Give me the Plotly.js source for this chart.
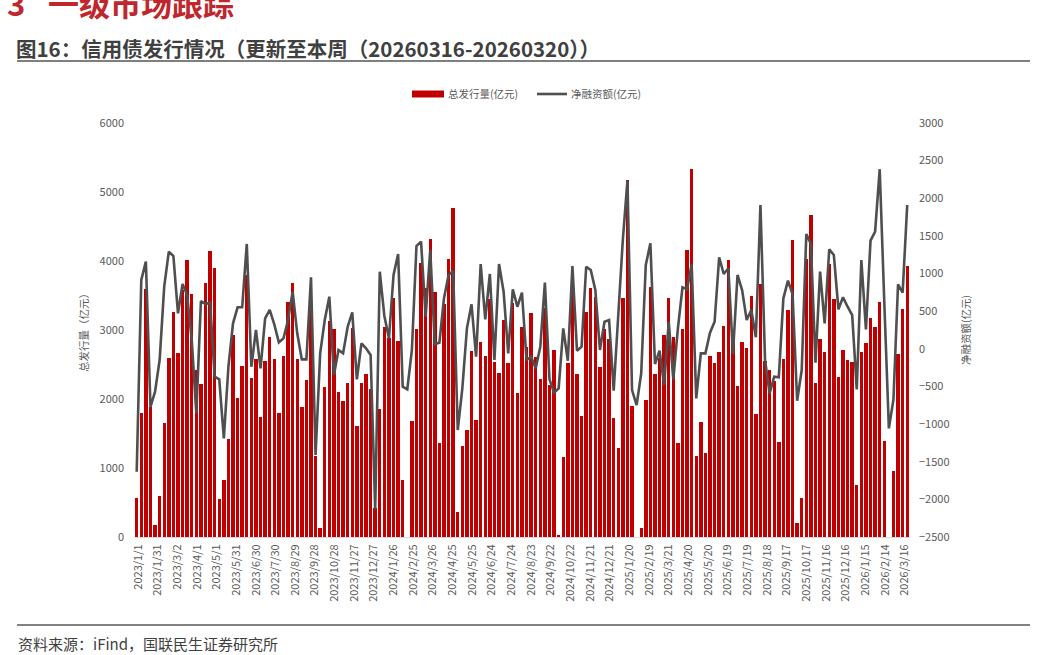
<!DOCTYPE html>
<html>
<head>
<meta charset="utf-8">
<script src="https://cdn.plot.ly/plotly-3.0.1.min.js"></script>
<style>
  html, body { margin: 0; padding: 0; background: #ffffff; }
  #chart { width: 1050px; height: 655px; }
</style>
</head>
<body>
<div id="chart"></div>
<script>
// Weekly credit bond issuance (bars) and net financing (line), in 100M CNY.
// Each value belongs to one weekly period, ending on the Friday below.
const firstWeekEnd = '2022-12-30';
const weekCount = 169;

const totalIssuance = [
  561, 1792, 3590, 1888, 174, 594, 1656, 2598, 3265, 2662,
  3580, 4014, 3521, 2420, 2212, 3685, 4144, 3898, 555, 826,
  1420, 2922, 2010, 2473, 3796, 2304, 2579, 1744, 2550, 2897,
  2579, 1802, 2623, 3410, 3685, 2575, 1888, 2275, 3314, 1180,
  125, 2169, 3130, 3014, 2106, 1971, 2231, 3024, 1613, 2236,
  2357, 2140, 420, 1850, 3038, 2878, 3468, 2844, 826, 0,
  1681, 3014, 3966, 3604, 4314, 3555, 1367, 3376, 4024, 4763,
  357, 1319, 1546, 2695, 1695, 2821, 2623, 3444, 2541, 2372,
  3144, 2526, 3386, 2082, 3038, 2757, 3250, 2613, 2285, 3314,
  2202, 2710, 29, 1164, 2526, 3555, 2357, 1753, 3265, 3604,
  3473, 2468, 3010, 2864, 1719, 1285, 3459, 5173, 1903, 0,
  135, 1985, 3618, 2362, 2590, 2927, 3459, 2897, 1358, 3014,
  4159, 5332, 1174, 1671, 1222, 2623, 2517, 2681, 3057, 4014,
  2927, 2183, 2821, 2734, 3492, 1782, 3665, 2550, 2420, 2265,
  1372, 2579, 3289, 4304, 208, 561, 4024, 4666, 2227, 2869,
  2676, 3951, 3444, 2314, 2710, 2565, 2541, 753, 2676, 2806,
  3168, 3047, 3410, 1396, 0, 956, 2647, 3299, 3927
];

const netFinancing = [
  -1633, 914, 1158, -770, -570, -149, 826, 1291, 1233, 472,
  861, 715, 117, -857, 635, 595, 613, -371, -405, -1190,
  -238, 339, 552, 552, 1393, -238, 250, -259, 405, 516,
  325, 86, 139, 383, 759, 206, -140, -140, 950, -1411,
  -60, 383, 693, -348, -16, -60, 294, 485, -405, 73,
  7, -82, -2133, 1025, 436, 139, 981, 1260, -503, -539,
  -16, 1366, 1424, 427, 1313, 64, 81, 671, 981, 1034,
  -1079, -525, 272, 591, -105, 1127, 392, 994, -149, 1127,
  759, -60, 791, 559, 746, -149, -105, -259, 28, 879,
  -405, -583, -525, 272, -158, 1100, -25, 28, 1091, 1047,
  781, -16, 360, 383, -557, 427, 1455, 2234, -548, -747,
  -326, 1114, 1402, -202, -25, -481, 360, -405, 272, 817,
  791, 1127, -658, -60, -60, 214, 360, 1216, 994, 1070,
  -69, 981, 781, 383, 516, 153, 1911, -149, -592, -371,
  -379, 671, 905, 728, -690, -282, 1526, 1393, -184, 1025,
  339, 1322, 1247, 525, 684, 559, 449, -539, 1180, 259,
  1437, 1556, 2386, 626, -1057, -671, 857, 746, 1911
];

// Date axis: labels every 30 days starting 2023/1/1
const firstTick = '2023-01-01';
const tickStepDays = 30;
const tickCount = 40;

const DAY = 86400000;
function isoDate(ms) {
  const d = new Date(ms);
  return d.toISOString().slice(0, 10);
}
function slashLabel(ms) {
  const d = new Date(ms);
  return d.getUTCFullYear() + '/' + (d.getUTCMonth() + 1) + '/' + d.getUTCDate();
}

const weekDates = [];
const startMs = Date.parse(firstWeekEnd + 'T00:00:00Z');
for (let i = 0; i < weekCount; i++) weekDates.push(isoDate(startMs + i * 7 * DAY));

const tickVals = [], tickText = [];
const tick0 = Date.parse(firstTick + 'T00:00:00Z');
for (let k = 0; k < tickCount; k++) {
  const ms = tick0 + k * tickStepDays * DAY;
  tickVals.push(isoDate(ms));
  tickText.push(slashLabel(ms));
}

// Plot frame in pixels
const L = 134, R = 910, T = 123, B = 537, W = 1050, H = 655;
const px = x => (x - L) / (R - L);
const py = y => (B - y) / (B - T);

const FONT = '"Noto Sans CJK SC", "Noto Sans", sans-serif';
const GREY = '#595959';
const RED = '#C00000';
const LINE = '#4F4F4F';

const traces = [
  {
    type: 'bar',
    name: '总发行量(亿元)',
    x: weekDates,
    y: totalIssuance,
    width: 4.5e8,
    marker: { color: RED, line: { width: 0 } },
    yaxis: 'y',
    hovertemplate: '%{x}<br>%{y}<extra>总发行量(亿元)</extra>'
  },
  {
    type: 'scatter',
    mode: 'lines',
    name: '净融资额(亿元)',
    x: weekDates,
    y: netFinancing,
    line: { color: LINE, width: 2.6 },
    yaxis: 'y2',
    hovertemplate: '%{x}<br>%{y}<extra>净融资额(亿元)</extra>'
  }
];

const layout = {
  width: W,
  height: H,
  margin: { l: L, r: W - R, t: T, b: H - B, pad: 0 },
  paper_bgcolor: '#ffffff',
  plot_bgcolor: '#ffffff',
  showlegend: false,
  bargap: 0,
  font: { family: FONT, size: 11, color: GREY },
  xaxis: {
    type: 'date',
    range: ['2022-12-25 21:00', '2026-03-24 06:00'],
    tickmode: 'array',
    tickvals: tickVals,
    ticktext: tickText,
    tickangle: -90,
    ticks: '',
    showgrid: false,
    zeroline: false,
    showline: true,
    linecolor: '#D9D9D9',
    linewidth: 1,
    tickfont: { family: FONT, size: 11, color: GREY },
    ticklabelstandoff: 2,
    fixedrange: true
  },
  yaxis: {
    range: [0, 6000],
    dtick: 1000,
    tick0: 0,
    showgrid: false,
    zeroline: false,
    showline: false,
    ticks: '',
    tickfont: { family: FONT, size: 11, color: GREY },
    ticklabelstandoff: 9,
    title: { text: '总发行量（亿元）', font: { family: FONT, size: 10.5, color: GREY }, standoff: 8 },
    fixedrange: true
  },
  yaxis2: {
    overlaying: 'y',
    side: 'right',
    range: [-2500, 3000],
    dtick: 500,
    tick0: 0,
    showgrid: false,
    zeroline: false,
    showline: false,
    ticks: '',
    tickfont: { family: FONT, size: 11, color: GREY },
    ticklabelstandoff: 8,
    title: { text: '净融资额(亿元)', font: { family: FONT, size: 10.5, color: GREY }, standoff: 14 },
    fixedrange: true
  },
  shapes: [
    // rules under the heading and above the source note
    { type: 'line', xref: 'paper', yref: 'paper', x0: px(17), x1: px(1030), y0: py(61), y1: py(61),
      line: { color: '#7F7F7F', width: 2 } },
    { type: 'line', xref: 'paper', yref: 'paper', x0: px(17), x1: px(1030), y0: py(625), y1: py(625),
      line: { color: '#595959', width: 1.5 } },
    // legend keys
    { type: 'rect', xref: 'paper', yref: 'paper', x0: px(412), x1: px(444), y0: py(97.5), y1: py(90.5),
      fillcolor: RED, line: { width: 0 } },
    { type: 'line', xref: 'paper', yref: 'paper', x0: px(537), x1: px(567), y0: py(94), y1: py(94),
      line: { color: LINE, width: 2.6 } }
  ],
  annotations: [
    { text: '<b>3</b>', xref: 'paper', yref: 'paper', x: px(5), y: py(2), xanchor: 'left', yanchor: 'middle',
      showarrow: false, font: { family: FONT, size: 31, color: '#C0272D' } },
    { text: '<b>一级市场跟踪</b>', xref: 'paper', yref: 'paper', x: px(46), y: py(2), xanchor: 'left', yanchor: 'middle',
      showarrow: false, font: { family: FONT, size: 31, color: '#C0272D' } },
    { text: '<b>图16：信用债发行情况（更新至本周（20260316-20260320））</b>', xref: 'paper', yref: 'paper',
      x: px(14), y: py(48), xanchor: 'left', yanchor: 'middle', showarrow: false,
      font: { family: FONT, size: 20.5, color: '#404040' } },
    { text: '总发行量(亿元)', xref: 'paper', yref: 'paper', x: px(446), y: py(94), xanchor: 'left', yanchor: 'middle',
      showarrow: false, font: { family: FONT, size: 10.5, color: GREY } },
    { text: '净融资额(亿元)', xref: 'paper', yref: 'paper', x: px(569), y: py(94), xanchor: 'left', yanchor: 'middle',
      showarrow: false, font: { family: FONT, size: 10.5, color: GREY } },
    { text: '资料来源：iFind，国联民生证券研究所', xref: 'paper', yref: 'paper', x: px(16), y: py(643),
      xanchor: 'left', yanchor: 'middle', showarrow: false, font: { family: FONT, size: 15, color: '#404040' } }
  ]
};

Plotly.newPlot('chart', traces, layout, { displayModeBar: false, staticPlot: true });
</script>
</body>
</html>
